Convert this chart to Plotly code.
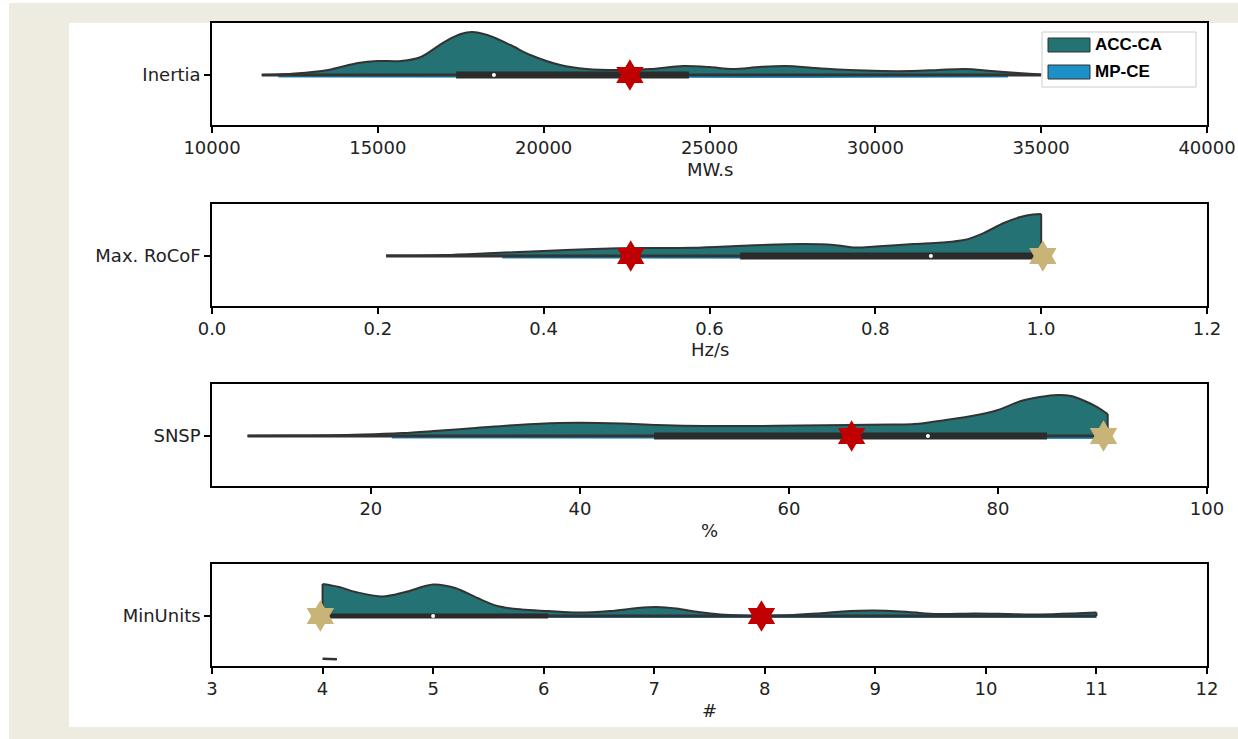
import plotly.graph_objects as go

W, H = 1238, 739

# ---------------- data ----------------
metrics = ["Inertia", "Max. RoCoF", "SNSP", "MinUnits"]
units = ["MW.s", "Hz/s", "%", "#"]
series_names = ["ACC-CA", "MP-CE"]

# ACC-CA half-violin outline: sample positions and relative density
inertia_x = [11500, 12500, 13500, 14400, 15000, 15700, 16300, 17000, 17500, 17840, 18300,
             19000, 19600, 20500, 21300, 22300, 23200, 24200, 25000, 25700, 26500, 27300,
             28200, 29200, 30200, 31100, 31900, 32700, 33500, 34300, 35000]
inertia_d = [0, 1.5, 5, 12, 14, 14, 18, 33, 41, 43, 40,
             30, 20, 10, 6, 5, 6, 9, 8, 6, 8, 9,
             7, 5, 4, 4, 5, 6, 4, 2, 0.5]

rocof_x = [0.21, 0.28, 0.34, 0.40, 0.46, 0.49, 0.52, 0.58, 0.64, 0.68, 0.714, 0.75, 0.776,
           0.80, 0.846, 0.88, 0.907, 0.93, 0.955, 0.975, 0.99, 1.0]
rocof_d = [0.5, 1, 3, 5, 7, 7.7, 8, 8.3, 10.3, 11.5, 12, 11, 8.5,
           9.5, 12, 13.5, 16, 22.7, 33, 39, 41.5, 42]

snsp_x = [8.2, 12, 16, 19.3, 23, 26, 30, 34, 38, 40, 44, 47.4, 52, 56.6, 61, 65.8, 70, 72,
          75, 78, 80, 82.2, 84, 85.7, 87, 88.3, 89.5, 90.5]
snsp_d = [0.3, 0.5, 0.8, 1.5, 3, 5, 8, 11, 13, 13.3, 12.5, 11, 10, 10, 10.5, 11, 11.5, 12,
          16, 21, 26, 35, 39, 41, 40, 35, 29, 22]

minunits_x = [4.0, 4.15, 4.3, 4.54, 4.75, 5.0, 5.2, 5.4, 5.58, 5.8, 6.04, 6.3, 6.6, 6.85,
              7.02, 7.2, 7.4, 7.6, 7.8, 8.0, 8.2, 8.47, 8.7, 8.99, 9.3, 9.56, 9.9, 10.2,
              10.49, 10.8, 11.0]
minunits_d = [32, 29, 24, 19.5, 24, 31.5, 28, 18, 10, 6.5, 5, 3.5, 5, 8,
              9, 7.5, 4, 1.5, 0.5, 0.3, 0.8, 2.5, 4.5, 5.5, 4, 2, 2.5, 2,
              1.5, 2.5, 3.5]

# MP-CE half-violin (almost flat)
mp_inertia_x = [12000, 20000, 28000, 34000]
mp_inertia_d = [2.5, 3, 3, 2.5]
mp_rocof_x = [0.35, 0.6, 0.8, 1.0]
mp_rocof_d = [2.5, 3, 3, 3]
mp_snsp_x = [22, 50, 75, 90]
mp_snsp_d = [2.5, 3, 3, 3]
mp_minunits_x = [4.0, 11.0]
mp_minunits_d = [2, 2]

# box statistics (ACC-CA): whisker min, q1, median, q3, whisker max
inertia_box = [11500, 17360, 18500, 24380, 35000]
rocof_box = [0.21, 0.637, 0.867, 0.992, 1.0]
snsp_box = [8.2, 47.1, 73.3, 84.7, 90.5]
minunits_box = [4.0, 4.0, 5.0, 6.04, 11.0]

# reference points (stars)
red_star = [22600, 0.505, 66.0, 7.97]
tan_star = [None, 1.002, 90.1, 3.98]

# axes
x_ranges = [[10000, 40000], [0.0, 1.2], [4.8, 100], [3, 12]]
x_ticks = [[10000, 15000, 20000, 25000, 30000, 35000, 40000],
           [0.0, 0.2, 0.4, 0.6, 0.8, 1.0, 1.2],
           [20, 40, 60, 80, 100],
           [3, 4, 5, 6, 7, 8, 9, 10, 11, 12]]
x_ticktext = [["10000", "15000", "20000", "25000", "30000", "35000", "40000"],
              ["0.0", "0.2", "0.4", "0.6", "0.8", "1.0", "1.2"],
              ["20", "40", "60", "80", "100"],
              ["3", "4", "5", "6", "7", "8", "9", "10", "11", "12"]]

acc_x = [inertia_x, rocof_x, snsp_x, minunits_x]
acc_d = [inertia_d, rocof_d, snsp_d, minunits_d]
mp_x = [mp_inertia_x, mp_rocof_x, mp_snsp_x, mp_minunits_x]
mp_d = [mp_inertia_d, mp_rocof_d, mp_snsp_d, mp_minunits_d]
boxes = [inertia_box, rocof_box, snsp_box, minunits_box]

# ---------------- styling ----------------
TEAL = "#247274"
BLUE = "#1E90C8"
DARK = "#333333"
RED = "#C00000"
TAN = "#C8B476"
BEIGE = "#EEEBE0"
FONT = "DejaVu Sans"
LEGEND_FONT = "Liberation Sans Narrow, Liberation Sans, Arial, sans-serif"
SCALE = 1 / 102.0  # density -> y units

def px(x):
    return x / W

def py(y):
    return 1 - y / H

panel_tops = [23, 204, 384, 564]
panel_h = 102
x_left, x_right = 212, 1207
title_y = [169, 349, 530, 710]
box_width = [7, 7, 7, 5]

fig = go.Figure()

for i in range(4):
    xa = "x" if i == 0 else f"x{i+1}"
    ya = "y" if i == 0 else f"y{i+1}"
    xs = acc_x[i]
    ds = [d * SCALE for d in acc_d[i]]
    # MP-CE lower half
    mx = mp_x[i]
    md = [-d * SCALE for d in mp_d[i]]
    fig.add_trace(go.Scatter(
        x=mx, y=md, mode="lines", fill="tozeroy", fillcolor=BLUE,
        line=dict(width=0, color=BLUE), name=series_names[1], showlegend=False,
        xaxis=xa, yaxis=ya, hoverinfo="skip"))
    # ACC-CA upper half (smooth outline)
    fig.add_trace(go.Scatter(
        x=xs, y=ds, mode="lines", fill="tozeroy", fillcolor=TEAL,
        line=dict(width=2, color=DARK, shape="spline", smoothing=0.9),
        name=series_names[0], showlegend=False, xaxis=xa, yaxis=ya, hoverinfo="skip"))
    # vertical end edges of the half violin
    for xe, de in ((xs[0], ds[0]), (xs[-1], ds[-1])):
        if de > 0.01:
            fig.add_trace(go.Scatter(
                x=[xe, xe], y=[0, de], mode="lines", line=dict(width=2, color=DARK),
                showlegend=False, xaxis=xa, yaxis=ya, hoverinfo="skip"))
    b = boxes[i]
    # whisker
    fig.add_trace(go.Scatter(
        x=[b[0], b[4]], y=[0, 0], mode="lines", line=dict(width=3, color=DARK),
        showlegend=False, xaxis=xa, yaxis=ya, hoverinfo="skip"))
    # IQR bar
    fig.add_trace(go.Scatter(
        x=[b[1], b[3]], y=[0, 0], mode="lines", line=dict(width=box_width[i], color="#2b2b2b"),
        showlegend=False, xaxis=xa, yaxis=ya, hoverinfo="skip"))
    # median
    fig.add_trace(go.Scatter(
        x=[b[2]], y=[0], mode="markers", marker=dict(size=4, color="white", line=dict(width=0)),
        showlegend=False, xaxis=xa, yaxis=ya, hoverinfo="skip"))
    # stars
    if red_star[i] is not None:
        fig.add_trace(go.Scatter(
            x=[red_star[i]], y=[0], mode="markers",
            marker=dict(symbol="hexagram", size=24, color=RED, line=dict(width=0)),
            showlegend=False, xaxis=xa, yaxis=ya, hoverinfo="skip"))
    if tan_star[i] is not None:
        fig.add_trace(go.Scatter(
            x=[tan_star[i]], y=[0], mode="markers",
            marker=dict(symbol="hexagram", size=24, color=TAN, line=dict(width=0)),
            showlegend=False, xaxis=xa, yaxis=ya, hoverinfo="skip"))

# small stray mark in the MinUnits panel
fig.add_trace(go.Scatter(
    x=[4.0, 4.13], y=[-0.42, -0.425], mode="lines", line=dict(width=2.5, color=DARK),
    showlegend=False, xaxis="x4", yaxis="y4", hoverinfo="skip"))

layout = dict(
    width=W, height=H,
    margin=dict(l=0, r=0, t=0, b=0),
    paper_bgcolor="white", plot_bgcolor="white",
    showlegend=False,
    font=dict(family=FONT, size=18, color="#222222"),
)

annotations = []
shapes = [
    dict(type="rect", xref="paper", yref="paper", x0=px(9), x1=1, y0=0, y1=py(3),
         fillcolor=BEIGE, line=dict(width=0), layer="below"),
    dict(type="rect", xref="paper", yref="paper", x0=px(69), x1=1, y0=py(727), y1=py(23),
         fillcolor="white", line=dict(width=0), layer="below"),
]

for i in range(4):
    sfx = "" if i == 0 else str(i + 1)
    top = panel_tops[i]
    bot = top + panel_h
    layout["xaxis" + sfx] = dict(
        domain=[px(x_left), px(x_right)], anchor="y" + sfx, range=x_ranges[i],
        tickmode="array", tickvals=x_ticks[i], ticktext=x_ticktext[i],
        ticks="outside", ticklen=6, tickwidth=1.5, tickcolor="black",
        showline=True, linecolor="black", linewidth=1.5, mirror=True,
        showgrid=False, zeroline=False, automargin=False,
        tickfont=dict(family=FONT, size=18, color="#222222"))
    layout["yaxis" + sfx] = dict(
        domain=[py(bot), py(top)], anchor="x" + sfx, range=[-0.49, 0.51],
        tickmode="array", tickvals=[0], ticktext=[metrics[i]],
        ticks="outside", ticklen=6, tickwidth=1.5, tickcolor="black",
        showline=True, linecolor="black", linewidth=1.5, mirror=True,
        showgrid=False, zeroline=False, automargin=False,
        tickfont=dict(family=FONT, size=18, color="#222222"))
    annotations.append(dict(
        text=units[i], xref="paper", yref="paper", x=px((x_left + x_right) / 2), y=py(title_y[i]),
        xanchor="center", yanchor="middle", showarrow=False,
        font=dict(family=FONT, size=18, color="#222222")))

# legend (drawn manually)
shapes.append(dict(type="rect", xref="paper", yref="paper", x0=px(1042), x1=px(1196),
                   y0=py(87), y1=py(32), fillcolor="white", line=dict(color="#cccccc", width=1)))
legend_colors = [TEAL, BLUE]
legend_rows = [45, 72]
for name, col, yc in zip(series_names, legend_colors, legend_rows):
    shapes.append(dict(type="rect", xref="paper", yref="paper", x0=px(1048), x1=px(1090),
                       y0=py(yc + 7), y1=py(yc - 7), fillcolor=col, line=dict(color=DARK, width=1)))
    annotations.append(dict(
        text=f"<b>{name}</b>", xref="paper", yref="paper", x=px(1093), y=py(yc),
        xanchor="left", yanchor="middle", showarrow=False,
        font=dict(family=LEGEND_FONT, size=17, color="black")))

layout["shapes"] = shapes
layout["annotations"] = annotations
fig.update_layout(**layout)

fig.write_html(
    "out.html",
    config={"displayModeBar": False},
    post_script="document.body.style.margin='0px';document.body.style.overflow='hidden';",
)
